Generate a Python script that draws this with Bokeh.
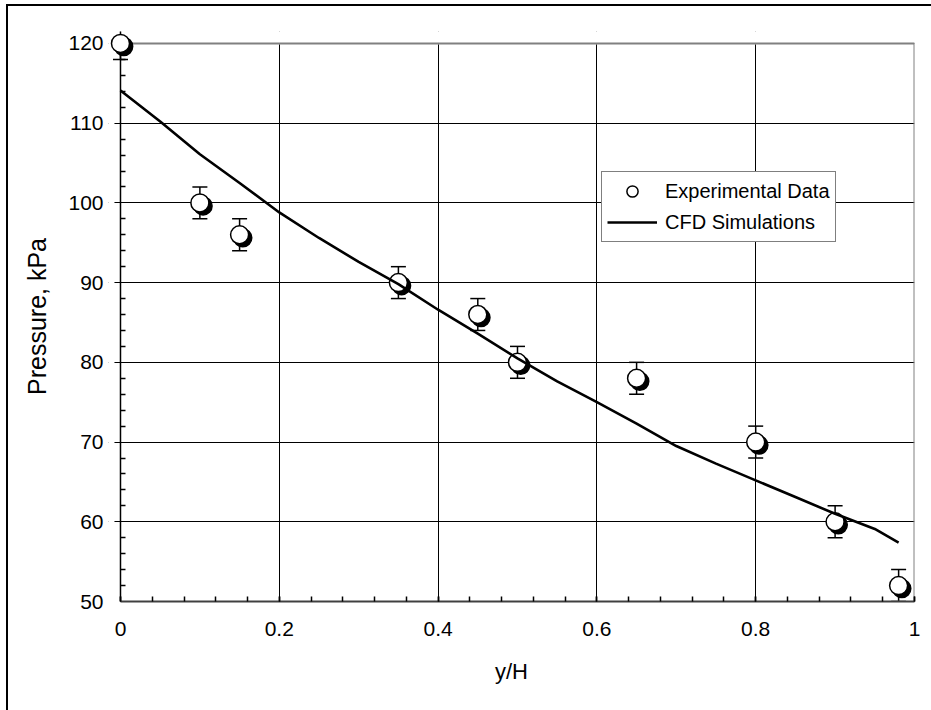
from bokeh.plotting import figure
from bokeh.models import (ColumnDataSource, Range1d, SingleIntervalTicker, FixedTicker, Whisker,
                          TeeHead, Legend, LegendItem, BoxAnnotation, LinearAxis)
from bokeh.transform import dodge
from bokeh.embed import file_html
from bokeh.resources import INLINE

# ---- data ----
y_over_h = [0.0, 0.1, 0.15, 0.35, 0.45, 0.5, 0.65, 0.8, 0.9, 0.98]
pressure_exp = [120, 100, 96, 90, 86, 80, 78, 70, 60, 52]
pressure_err = [2, 2, 2, 2, 2, 2, 2, 2, 2, 2]

cfd_x = [0.0, 0.05, 0.1, 0.15, 0.2, 0.25, 0.3, 0.35, 0.4, 0.45, 0.5,
         0.55, 0.6, 0.65, 0.7, 0.75, 0.8, 0.85, 0.9, 0.95, 0.98]
cfd_p = [114.1, 110.2, 106.1, 102.5, 98.8, 95.6, 92.6, 89.8, 86.6, 83.6, 80.5,
         77.6, 75.0, 72.3, 69.5, 67.3, 65.2, 63.1, 61.0, 59.1, 57.4]

x_ticks_bounds = (0, 1)
y_ticks_bounds = (50, 120)
y_major_step = 10
y_minor_step = 2

FONT = "Liberation Sans"

src = ColumnDataSource(dict(
    x=y_over_h, y=pressure_exp,
    upper=[p + e for p, e in zip(pressure_exp, pressure_err)],
    lower=[p - e for p, e in zip(pressure_exp, pressure_err)],
))
cfd_src = ColumnDataSource(dict(x=cfd_x, y=cfd_p))

# the frame reaches a little past the axes so that the corner marker is not cut
p = figure(frame_width=806, frame_height=570,
           min_border_left=100, min_border_right=17, min_border_top=25, min_border_bottom=109,
           x_range=Range1d(-0.0151, 1), y_range=Range1d(50, 121.5),
           output_backend="svg", toolbar_location=None,
           background_fill_color="white", border_fill_color="white")
p.styles = {"border-left": "2px solid black", "border-top": "2px solid black",
            "margin-left": "6px", "margin-top": "4px"}
p.outline_line_color = None

y_ticker = SingleIntervalTicker(interval=y_major_step, num_minor_ticks=5)
x_ticker = SingleIntervalTicker(interval=0.2, num_minor_ticks=5)

# axes
p.xaxis.ticker = x_ticker
p.yaxis.ticker = y_ticker
p.xaxis.major_label_overrides = {0: "0", 1: "1"}
for ax in (p.xaxis[0], p.yaxis[0]):
    ax.major_label_text_font = FONT
    ax.major_label_text_font_size = "21px"
    ax.major_label_text_color = "black"
    ax.axis_label_text_font = FONT
    ax.axis_label_text_font_style = "normal"
    ax.axis_label_text_color = "black"
    ax.major_tick_line_color = "black"
    ax.minor_tick_line_color = "black"
    ax.major_tick_line_width = 1.5
    ax.minor_tick_line_width = 1.5

p.xaxis.axis_label = "y/H"
p.xaxis.axis_label_text_font_size = "22px"
p.xaxis.bounds = x_ticks_bounds
p.xaxis.axis_line_color = "#404040"
p.xaxis.axis_line_width = 2
p.xaxis.major_tick_in = 5
p.xaxis.major_tick_out = 0
p.xaxis.minor_tick_in = 5
p.xaxis.minor_tick_out = 0
p.xaxis.major_label_standoff = 20
p.xaxis.axis_label_standoff = 20

# left axis: tick labels and title only
p.yaxis.axis_label = "Pressure, kPa"
p.yaxis.axis_label_text_font_size = "25px"
p.yaxis.bounds = y_ticks_bounds
p.yaxis.axis_line_color = None
p.yaxis.major_tick_in = 0
p.yaxis.major_tick_out = 0
p.yaxis.minor_tick_in = 0
p.yaxis.minor_tick_out = 0
p.yaxis.major_label_standoff = 5
p.yaxis.axis_label_standoff = 14

# second y axis at y/H = 0 carrying the inner minor ticks
minor_vals = [v for v in range(y_ticks_bounds[0], y_ticks_bounds[1] + 1, y_minor_step)
              if v % y_major_step != 0]
minor_ticker = FixedTicker(ticks=[], minor_ticks=minor_vals)
tick_axis = LinearAxis(ticker=minor_ticker, fixed_location=x_ticks_bounds[0], bounds=y_ticks_bounds,
                       axis_line_color=None, major_tick_in=0, major_tick_out=0,
                       minor_tick_in=5, minor_tick_out=0, minor_tick_line_color="black",
                       minor_tick_line_width=1.5)
p.add_layout(tick_axis, "left")

# grid
p.xgrid.ticker = x_ticker
p.ygrid.ticker = y_ticker
p.grid.grid_line_color = "black"
p.grid.grid_line_width = 1

# blank the strips outside the axes (grid stubs of 6 px stay as outer major ticks)
p.add_layout(BoxAnnotation(right=-0.0076, fill_color="white", fill_alpha=1,
                           line_color=None, level="underlay"))
p.add_layout(BoxAnnotation(bottom=y_ticks_bounds[1], fill_color="white", fill_alpha=1,
                           line_color="white", line_width=3, level="underlay"))

# error bars
wh = Whisker(source=src, base="x", upper="upper", lower="lower", dimension="height",
             line_color="black", line_width=1.5, level="underlay",
             upper_head=TeeHead(size=15, line_color="black", line_width=1.5),
             lower_head=TeeHead(size=15, line_color="black", line_width=1.5))
p.add_layout(wh)

# plot-area border (top, right) and the y axis line, below the markers
p.line(x=[x_ticks_bounds[0], x_ticks_bounds[1], x_ticks_bounds[1]],
       y=[y_ticks_bounds[1], y_ticks_bounds[1], y_ticks_bounds[0]],
       line_color="#808080", line_width=2)
p.line(x=[x_ticks_bounds[0], x_ticks_bounds[0]], y=[y_ticks_bounds[0], y_ticks_bounds[1]],
       line_color="black", line_width=1.5)

# marker shadow and markers
p.scatter(x=dodge("x", 0.004, range=p.x_range), y=dodge("y", -0.38, range=p.y_range),
          source=src, size=18, fill_color="black", line_color="black", line_width=1.5)
exp_r = p.scatter("x", "y", source=src, size=18, fill_color="white",
                  line_color="black", line_width=1.5)

cfd_r = p.line("x", "y", source=cfd_src, line_color="black", line_width=2.6)

legend = Legend(items=[LegendItem(label="Experimental Data", renderers=[exp_r]),
                       LegendItem(label="CFD Simulations", renderers=[cfd_r])],
                location=(493, 359), border_line_color="black", border_line_width=1.2,
                background_fill_color="white", background_fill_alpha=1.0,
                label_text_font=FONT, label_text_font_size="20px", label_text_color="black",
                glyph_width=50, glyph_height=28, padding=5, spacing=3, label_standoff=8,
                margin=0)
p.add_layout(legend)

open("out.html", "w").write(file_html(p, INLINE))
